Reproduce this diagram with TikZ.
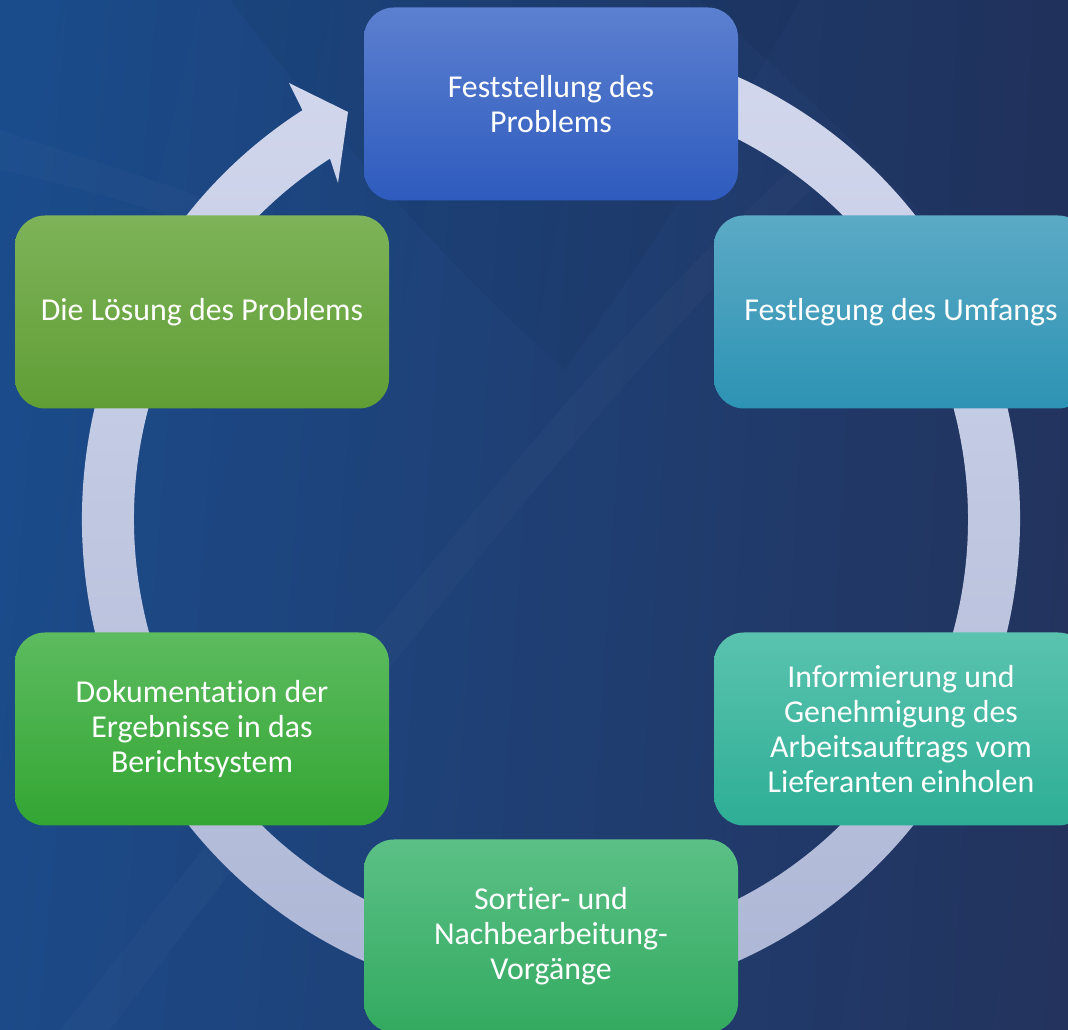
\documentclass[tikz,border=0pt]{standalone}
\usepackage{fontspec}
\usetikzlibrary{shadings}
\setmainfont{Carlito}[Ligatures={NoCommon}]
\definecolor{bgUL}{HTML}{1A4C8C}
\definecolor{bgUR}{HTML}{22345F}
\definecolor{bgLL}{HTML}{1C4A88}
\definecolor{bgLR}{HTML}{23335D}
\definecolor{ringtop}{HTML}{D4D9EE}
\definecolor{ringbot}{HTML}{AAB4D3}
\definecolor{c1t}{HTML}{5C80D0}\definecolor{c1b}{HTML}{2E5BBE}
\definecolor{c2t}{HTML}{5BAAC5}\definecolor{c2b}{HTML}{2D93B4}
\definecolor{c3t}{HTML}{5AC3AF}\definecolor{c3b}{HTML}{2EAE95}
\definecolor{c4t}{HTML}{5BC086}\definecolor{c4b}{HTML}{33AA60}
\definecolor{c5t}{HTML}{5CBB5F}\definecolor{c5b}{HTML}{33A633}
\definecolor{c6t}{HTML}{7EB359}\definecolor{c6b}{HTML}{609E35}
\tikzset{
  stepbox/.style={rounded corners=22.5pt, minimum width=280.5pt, minimum height=144.75pt,
    inner sep=0pt, align=center, text=white,
    font=\fontsize{23.9pt}{26.3pt}\selectfont},
  sheen/.style={fill=white, opacity=0.018},
  darkspot/.style={fill=black, opacity=0.04}
}
\begin{document}
\begin{tikzpicture}[x=0.75pt,y=0.75pt]
\useasboundingbox (0,0) rectangle (1068,1030);
\clip (0,0) rectangle (1068,1030);
% background
\shade[upper left=bgUL, upper right=bgUR, lower left=bgLL, lower right=bgLR] (0,0) rectangle (1068,1030);
% faint texture
\fill[darkspot] (230,1030) .. controls (330,900) and (450,760) .. (565,660) .. controls (650,780) and (740,920) .. (800,1030) -- cycle;
\fill[sheen] (60,0) .. controls (300,300) and (560,650) .. (790,860) -- (810,840) .. controls (600,640) and (330,290) .. (110,0) -- cycle;
\fill[sheen] (0,900) .. controls (150,850) and (260,820) .. (360,760) -- (360,730) .. controls (250,790) and (140,830) .. (0,860) -- cycle;
\fill[darkspot] (700,1030) .. controls (850,900) and (980,760) .. (1068,640) -- (1068,1030) -- cycle;
% ring with arrow
\coordinate (c) at (551,511);
\coordinate (tip) at (348,918);
\coordinate (barbO) at (289,947);
\coordinate (barbI) at (338,847);
\shade[top color=ringtop, bottom color=ringbot]
  (c) ++(122:469 and 482)
  arc[start angle=122, end angle=460, x radius=469, y radius=482]
  -- ++(9,-56.2)
  arc[start angle=460, end angle=122, x radius=417, y radius=425]
  -- (barbI) -- (tip) -- (barbO) -- cycle;
% boxes
\node[stepbox, top color=c1t, bottom color=c1b] (n1) at (551,926) {Feststellung des\\Problems};
\node[stepbox, top color=c2t, bottom color=c2b] (n2) at (901,718) {Festlegung des Umfangs};
\node[stepbox, top color=c3t, bottom color=c3b] (n3) at (901,301) {Informierung und\\Genehmigung des\\Arbeitsauftrags vom\\Lieferanten einholen};
\node[stepbox, top color=c4t, bottom color=c4b] (n4) at (551,94) {Sortier- und\\Nachbearbeitung-\\Vorgänge};
\node[stepbox, top color=c5t, bottom color=c5b] (n5) at (202,301) {Dokumentation der\\Ergebnisse in das\\Berichtsystem};
\node[stepbox, top color=c6t, bottom color=c6b] (n6) at (202,718) {Die Lösung des Problems};
\end{tikzpicture}
\end{document}
